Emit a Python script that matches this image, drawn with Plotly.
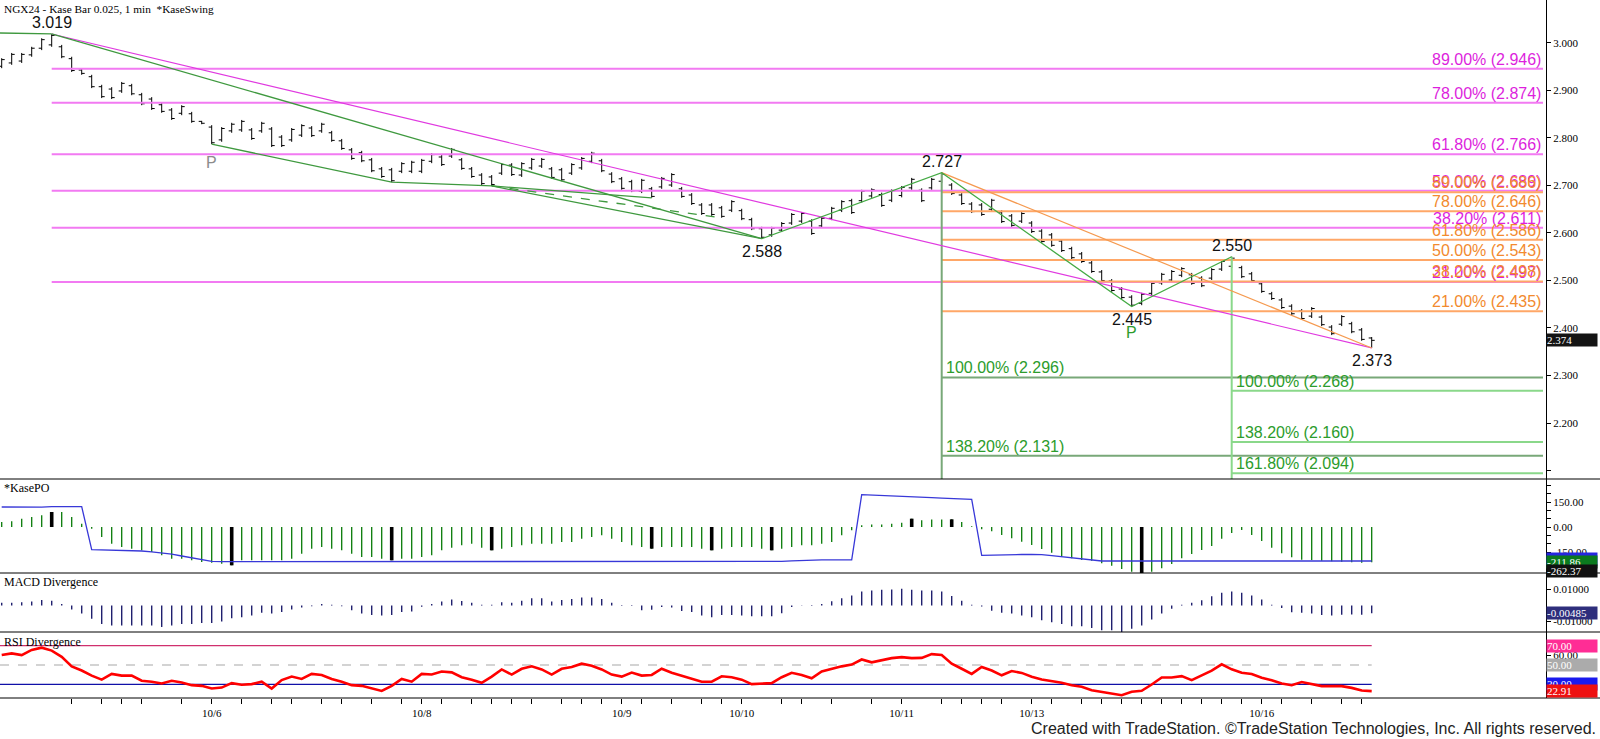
import plotly.graph_objects as go

# ---------------- data ----------------
bar_index = list(range(138))

opens = [
    2.951, 2.958, 2.962, 2.975, 2.989, 2.996, 2.992, 2.967, 2.943, 2.929,
    2.908, 2.903, 2.899, 2.910, 2.891, 2.882, 2.870, 2.859, 2.852, 2.851,
    2.835, 2.823, 2.796, 2.815, 2.817, 2.817, 2.815, 2.819, 2.802, 2.796,
    2.806, 2.821, 2.815, 2.811, 2.794, 2.775, 2.769, 2.754, 2.735, 2.733,
    2.730, 2.730, 2.730, 2.751, 2.760, 2.762, 2.754, 2.735, 2.722, 2.718,
    2.726, 2.743, 2.722, 2.737, 2.741, 2.735, 2.733, 2.726, 2.737, 2.751,
    2.752, 2.724, 2.714, 2.708, 2.688, 2.693, 2.697, 2.701, 2.693, 2.680,
    2.659, 2.659, 2.653, 2.648, 2.647, 2.628, 2.609, 2.596, 2.606, 2.621,
    2.625, 2.625, 2.615, 2.631, 2.648, 2.668, 2.668, 2.678, 2.681, 2.669,
    2.679, 2.695, 2.690, 2.695, 2.709, 2.701, 2.680, 2.661, 2.659, 2.650,
    2.644, 2.636, 2.625, 2.621, 2.604, 2.596, 2.583, 2.567, 2.556, 2.537,
    2.518, 2.499, 2.482, 2.465, 2.452, 2.473, 2.495, 2.501, 2.511, 2.512,
    2.505, 2.505, 2.524, 2.530, 2.527, 2.514, 2.493, 2.472, 2.459, 2.446,
    2.436, 2.425, 2.423, 2.402, 2.408, 2.409, 2.396, 2.379,
]
highs = [
    2.968, 2.979, 2.979, 2.992, 3.010, 3.019, 2.996, 2.971, 2.947, 2.933,
    2.912, 2.907, 2.918, 2.914, 2.895, 2.886, 2.874, 2.863, 2.869, 2.855,
    2.836, 2.827, 2.823, 2.832, 2.838, 2.821, 2.834, 2.823, 2.806, 2.821,
    2.829, 2.825, 2.832, 2.815, 2.798, 2.779, 2.773, 2.758, 2.739, 2.737,
    2.749, 2.752, 2.756, 2.768, 2.764, 2.779, 2.758, 2.739, 2.726, 2.722,
    2.747, 2.747, 2.749, 2.758, 2.758, 2.739, 2.737, 2.747, 2.760, 2.771,
    2.756, 2.728, 2.718, 2.712, 2.714, 2.697, 2.718, 2.726, 2.697, 2.684,
    2.663, 2.663, 2.657, 2.669, 2.651, 2.632, 2.613, 2.613, 2.623, 2.642,
    2.644, 2.629, 2.634, 2.655, 2.669, 2.672, 2.691, 2.694, 2.685, 2.692,
    2.699, 2.716, 2.694, 2.716, 2.727, 2.705, 2.684, 2.665, 2.663, 2.672,
    2.648, 2.640, 2.644, 2.625, 2.608, 2.600, 2.587, 2.571, 2.560, 2.541,
    2.522, 2.503, 2.486, 2.469, 2.474, 2.497, 2.516, 2.522, 2.528, 2.516,
    2.509, 2.526, 2.543, 2.550, 2.531, 2.518, 2.497, 2.476, 2.463, 2.450,
    2.440, 2.444, 2.427, 2.406, 2.427, 2.413, 2.400, 2.381,
]
lows = [
    2.947, 2.954, 2.958, 2.971, 2.985, 2.992, 2.968, 2.939, 2.933, 2.905,
    2.884, 2.882, 2.895, 2.890, 2.869, 2.859, 2.853, 2.838, 2.848, 2.832,
    2.829, 2.787, 2.792, 2.811, 2.813, 2.796, 2.811, 2.781, 2.781, 2.792,
    2.802, 2.802, 2.811, 2.792, 2.775, 2.754, 2.749, 2.728, 2.716, 2.707,
    2.726, 2.726, 2.726, 2.747, 2.741, 2.758, 2.733, 2.716, 2.701, 2.699,
    2.722, 2.720, 2.718, 2.733, 2.737, 2.714, 2.709, 2.722, 2.733, 2.747,
    2.728, 2.705, 2.691, 2.686, 2.684, 2.674, 2.693, 2.697, 2.674, 2.659,
    2.638, 2.636, 2.632, 2.644, 2.627, 2.606, 2.588, 2.592, 2.602, 2.617,
    2.621, 2.596, 2.611, 2.627, 2.644, 2.640, 2.664, 2.674, 2.655, 2.665,
    2.675, 2.691, 2.665, 2.691, 2.705, 2.680, 2.659, 2.642, 2.636, 2.646,
    2.621, 2.613, 2.621, 2.600, 2.579, 2.571, 2.560, 2.545, 2.537, 2.516,
    2.497, 2.476, 2.461, 2.445, 2.448, 2.469, 2.491, 2.497, 2.507, 2.491,
    2.486, 2.501, 2.520, 2.526, 2.505, 2.497, 2.474, 2.459, 2.440, 2.427,
    2.417, 2.421, 2.404, 2.385, 2.404, 2.389, 2.373, 2.358,
]
closes = [
    2.965, 2.976, 2.976, 2.989, 3.007, 3.016, 2.971, 2.942, 2.936, 2.908,
    2.887, 2.885, 2.915, 2.893, 2.872, 2.862, 2.856, 2.841, 2.866, 2.835,
    2.831, 2.790, 2.820, 2.829, 2.835, 2.799, 2.831, 2.784, 2.784, 2.818,
    2.826, 2.805, 2.829, 2.795, 2.778, 2.757, 2.752, 2.731, 2.719, 2.710,
    2.746, 2.749, 2.753, 2.765, 2.744, 2.776, 2.736, 2.719, 2.704, 2.702,
    2.744, 2.723, 2.746, 2.755, 2.755, 2.717, 2.712, 2.744, 2.757, 2.768,
    2.731, 2.708, 2.694, 2.689, 2.711, 2.677, 2.715, 2.723, 2.677, 2.662,
    2.641, 2.639, 2.635, 2.666, 2.630, 2.609, 2.591, 2.610, 2.620, 2.639,
    2.641, 2.599, 2.631, 2.652, 2.666, 2.643, 2.688, 2.691, 2.658, 2.689,
    2.696, 2.713, 2.668, 2.713, 2.724, 2.683, 2.662, 2.645, 2.639, 2.669,
    2.624, 2.616, 2.641, 2.603, 2.582, 2.574, 2.563, 2.548, 2.540, 2.519,
    2.500, 2.479, 2.464, 2.448, 2.471, 2.494, 2.513, 2.519, 2.525, 2.494,
    2.489, 2.523, 2.540, 2.547, 2.508, 2.500, 2.477, 2.462, 2.443, 2.430,
    2.420, 2.441, 2.407, 2.388, 2.424, 2.392, 2.376, 2.374,
]

kasepo_hist = [
    30, 34, 50, 60, 70, 90, 90, 60, 20, -10,
    -60, -100, -120, -130, -140, -150, -170, -190, -190, -200,
    -210, -215, -220, -230, -200, -200, -200, -200, -200, -190,
    -160, -130, -120, -130, -140, -160, -180, -180, -190, -200,
    -190, -190, -180, -170, -140, -125, -110, -100, -125, -140,
    -130, -120, -110, -100, -100, -100, -90, -90, -70, -60,
    -50, -70, -90, -110, -120, -130, -120, -120, -120, -120,
    -130, -140, -130, -120, -120, -120, -130, -140, -130, -120,
    -110, -110, -100, -90, -50, -20, 10, 15, 15, 20,
    25, 50, 40, 45, 45, 46, 30, 4, -14, -26,
    -48, -68, -88, -108, -132, -154, -174, -188, -198, -202,
    -218, -232, -252, -268, -278, -268, -248, -222, -188, -162,
    -138, -114, -70, -36, -18, -48, -84, -124, -158, -182,
    -196, -198, -202, -206, -208, -212, -214, -212,
]
kasepo_peak_bars = [5, 23, 39, 49, 65, 71, 77, 91, 95, 114]
kasepo_line = [
    120, 119, 118, 118, 119, 122, 122, 122, 122, -136,
    -137, -138, -139, -140, -144, -149, -154, -163, -174, -185,
    -196, -206, -208, -208, -208, -208, -208, -208, -208, -208,
    -208, -208, -208, -208, -208, -208, -208, -208, -208, -208,
    -208, -208, -208, -208, -208, -208, -208, -208, -208, -208,
    -208, -208, -208, -208, -208, -208, -208, -208, -208, -208,
    -208, -208, -208, -208, -208, -208, -208, -208, -208, -208,
    -208, -208, -208, -208, -208, -208, -208, -208, -206, -203,
    -200, -198, -197, -197, -197, -197, 194, 192, 190, 188,
    185, 182, 179, 176, 173, 170, 168, 166, -170, -168,
    -166, -165, -165, -165, -166, -172, -178, -185, -192, -198,
    -204, -204, -204, -204, -204, -204, -204, -204, -204, -204,
    -204, -204, -204, -204, -204, -204, -204, -204, -204, -204,
    -204, -204, -204, -204, -204, -204, -204, -204,
]
macd_div = [
    0.0017, 0.0017, 0.0020, 0.0025, 0.0035, 0.0030, 0.0010, -0.0025, -0.0050, -0.0083,
    -0.0115, -0.0125, -0.0125, -0.0125, -0.0125, -0.0125, -0.0135, -0.0125, -0.0115, -0.0115,
    -0.0110, -0.0110, -0.0100, -0.0080, -0.0073, -0.0063, -0.0046, -0.0050, -0.0040, -0.0025,
    -0.0012, -0.0004, 0.0010, 0.0004, -0.0004, -0.0030, -0.0050, -0.0060, -0.0063, -0.0060,
    -0.0040, -0.0038, -0.0008, 0.0010, 0.0025, 0.0038, 0.0028, 0.0017, 0.0004, 0.0004,
    0.0020, 0.0017, 0.0030, 0.0045, 0.0045, 0.0025, 0.0035, 0.0040, 0.0050, 0.0050,
    0.0040, 0.0017, 0.0003, -0.0003, -0.0030, -0.0027, -0.0010, -0.0012, -0.0035, -0.0040,
    -0.0063, -0.0073, -0.0060, -0.0060, -0.0063, -0.0067, -0.0067, -0.0067, -0.0048, -0.0010,
    0.0002, -0.0003, 0.0010, 0.0027, 0.0046, 0.0063, 0.0088, 0.0094, 0.0098, 0.0100,
    0.0104, 0.0098, 0.0094, 0.0094, 0.0088, 0.0060, 0.0030, 0.0004, -0.0006, -0.0033,
    -0.0046, -0.0050, -0.0063, -0.0073, -0.0092, -0.0104, -0.0115, -0.0130, -0.0130, -0.0140,
    -0.0154, -0.0154, -0.0165, -0.0146, -0.0125, -0.0088, -0.0050, -0.0020, 0.0005, 0.0017,
    0.0033, 0.0058, 0.0079, 0.0088, 0.0079, 0.0063, 0.0038, 0.0005, -0.0015, -0.0042,
    -0.0046, -0.0050, -0.0060, -0.0063, -0.0058, -0.0056, -0.0058, -0.00485,
]
rsi = [
    60.3, 62.0, 60.3, 65.6, 68.0, 64.9, 58.5, 48.6, 44.3, 39.0,
    34.8, 40.8, 39.0, 39.0, 33.7, 32.7, 30.9, 33.7, 31.9, 29.1,
    28.4, 25.6, 26.6, 31.2, 29.5, 30.2, 32.7, 25.6, 34.4, 38.0,
    35.5, 40.8, 39.7, 35.5, 32.7, 29.1, 28.4, 25.6, 23.1, 28.4,
    35.5, 32.7, 40.8, 40.1, 43.3, 42.4, 37.3, 34.8, 31.6, 38.0,
    45.4, 40.1, 46.1, 48.6, 45.4, 40.1, 46.1, 47.9, 51.4, 49.3,
    45.4, 40.1, 38.0, 42.2, 39.0, 39.7, 46.1, 41.9, 39.0, 36.2,
    32.7, 32.7, 38.3, 37.3, 34.8, 30.2, 30.9, 31.2, 37.3, 41.9,
    39.7, 36.2, 43.3, 46.1, 48.6, 50.4, 55.7, 52.8, 55.0, 57.1,
    58.1, 57.1, 57.4, 61.3, 60.3, 51.4, 46.1, 40.8, 47.9, 44.3,
    39.3, 43.7, 41.8, 37.8, 35.0, 33.3, 31.6, 29.1, 27.4, 23.9,
    22.2, 21.1, 18.7, 22.2, 23.2, 29.8, 37.1, 37.1, 38.5, 34.3,
    39.6, 44.1, 50.7, 45.5, 42.0, 40.6, 36.8, 34.3, 30.9, 29.1,
    32.3, 30.2, 28.1, 28.1, 28.1, 26.3, 23.5, 22.9,
]
rsi_levels = [70, 50, 30]

date_ticks = [21, 42, 62, 74, 90, 103, 126]
date_labels = ["10/6", "10/8", "10/9", "10/10", "10/11", "10/13", "10/16"]
minor_ticks = [7, 10, 12, 14, 18, 24, 27, 29, 32, 34, 37, 40, 44, 47, 49, 51, 53, 56,
               58, 60, 64, 67, 70, 72, 78, 80, 83, 87, 94, 96, 98, 100, 105, 108, 110,
               112, 114, 116, 118, 120, 122, 124, 128, 131, 134, 136]

# Fibonacci retracements (magenta from the 3.019 swing, orange from the 2.727 swing)
mag_start = 5
mag_pcts = ["89.00%", "78.00%", "61.80%", "50.00%", "38.20%", "21.00%"]
mag_levels = [2.946, 2.874, 2.766, 2.689, 2.611, 2.497]
org_start = 94
org_pcts = ["89.00%", "78.00%", "61.80%", "50.00%", "38.20%", "21.00%"]
org_levels = [2.686, 2.646, 2.586, 2.543, 2.498, 2.435]
# Fibonacci extensions (green)
extA_start = 94
extA_pcts = ["100.00%", "138.20%"]
extA_levels = [2.296, 2.131]
extB_start = 123
extB_pcts = ["100.00%", "138.20%", "161.80%"]
extB_levels = [2.268, 2.160, 2.094]

prior_swing_high = 3.021
swing_labels = [("3.019", 5, "high"), ("2.588", 76, "low"), ("2.727", 94, "high"),
                ("2.445", 113, "low"), ("2.550", 123, "high"), ("2.373", 137, "low")]
last_close_tag = "2.374"

# ---------------- layout constants ----------------
W, H = 1600, 739
XD = 1546 / W
XMIN, XMAX = -0.17, 154.43
x_edge = XMAX - 0.3
YMIN, YMAX = 2.0821, 3.0905


def dom(top, bot):
    return [1 - bot / H, 1 - top / H]


MAG, MAG_TXT = "#f27af2", "#dd1fdd"
ORG, ORG_TXT = "#ffa767", "#f28a2e"
GA, GB, G_TXT = "#78a878", "#8ad88a", "#2c9c2c"
SWING = "#3f993f"
SERIF = "Liberation Serif"
SANS = "Liberation Sans"
FIB_SIZE = 16

fig = go.Figure()


def line(x, y, color, width, dash=None, xa="x", ya="y"):
    fig.add_trace(go.Scatter(x=x, y=y, mode="lines", xaxis=xa, yaxis=ya,
                             line=dict(color=color, width=width, dash=dash),
                             hoverinfo="skip", showlegend=False))


# fib horizontals
for lv in mag_levels:
    line([mag_start, x_edge], [lv, lv], MAG, 2)
for lv in org_levels:
    line([org_start, x_edge], [lv, lv], ORG, 2)
for lv in extA_levels:
    line([extA_start, x_edge], [lv, lv], GA, 2)
for lv in extB_levels:
    line([extB_start, x_edge], [lv, lv], GB, 2)
line([extA_start, extA_start], [highs[extA_start], YMIN], GA, 2)
line([extB_start, extB_start], [highs[extB_start], YMIN], GB, 2)

# price bars
fig.add_trace(go.Ohlc(x=bar_index, open=opens, high=highs, low=lows, close=closes,
                      xaxis="x", yaxis="y", tickwidth=0.3,
                      increasing=dict(line=dict(color="black", width=1)),
                      decreasing=dict(line=dict(color="black", width=1)),
                      hoverinfo="skip", showlegend=False))

# trend / swing lines
line([5, 137], [highs[5], lows[137]], "#e03ae0", 1.2)
line([94, 137], [highs[94], lows[137]], "#f59a50", 1.2)
line([XMIN, 5], [prior_swing_high, highs[5]], SWING, 1.3)
line([5, 76], [highs[5], lows[76]], SWING, 1.3)
line([21, 39, 49], [lows[21], lows[39], lows[49]], SWING, 1.3)
line([49, 65], [lows[49], lows[65]], SWING, 1.3)
line([49, 72], [lows[49], lows[72]], SWING, 1.3, dash="dash")
line([49, 76], [lows[49], lows[76]], SWING, 1.3)
line([76, 94, 113, 123], [lows[76], highs[94], lows[113], highs[123]], "#44aa44", 1.3)

# KasePO
fig.add_trace(go.Bar(x=bar_index, y=kasepo_hist, width=0.13, xaxis="x2", yaxis="y2",
                     marker=dict(color="#087a08", line=dict(width=0)),
                     hoverinfo="skip", showlegend=False))
fig.add_trace(go.Bar(x=kasepo_peak_bars, y=[kasepo_hist[i] for i in kasepo_peak_bars],
                     width=0.36, xaxis="x2", yaxis="y2",
                     marker=dict(color="black", line=dict(width=0)),
                     hoverinfo="skip", showlegend=False))
line(bar_index, kasepo_line, "#3838d8", 1.3, xa="x2", ya="y2")

# MACD divergence
fig.add_trace(go.Bar(x=bar_index, y=macd_div, width=0.14, xaxis="x3", yaxis="y3",
                     marker=dict(color="#20206e", line=dict(width=0)),
                     hoverinfo="skip", showlegend=False))

# RSI divergence
line([XMIN, bar_index[-1]], [rsi_levels[0]] * 2, "#d0306e", 1.2, xa="x4", ya="y4")
line([XMIN, bar_index[-1]], [rsi_levels[1]] * 2, "#a8a8a8", 1.2, dash="dash", xa="x4", ya="y4")
line([XMIN, bar_index[-1]], [rsi_levels[2]] * 2, "#1010a8", 1.2, xa="x4", ya="y4")
line(bar_index, rsi, "#ff0000", 2.6, xa="x4", ya="y4")

# ---------------- annotations ----------------
ann = []
for p, lv in zip(mag_pcts, mag_levels):
    ann.append(dict(x=x_edge, y=lv, xref="x", yref="y", text=f"{p} ({lv:.3f})",
                    xanchor="right", yanchor="bottom", showarrow=False, yshift=-1,
                    font=dict(family=SANS, size=FIB_SIZE, color=MAG_TXT)))
for p, lv in zip(org_pcts, org_levels):
    ann.append(dict(x=x_edge, y=lv, xref="x", yref="y", text=f"{p} ({lv:.3f})",
                    xanchor="right", yanchor="bottom", showarrow=False, yshift=-1,
                    font=dict(family=SANS, size=FIB_SIZE, color=ORG_TXT)))
for start, pcts, lvls in ((extA_start, extA_pcts, extA_levels), (extB_start, extB_pcts, extB_levels)):
    for p, lv in zip(pcts, lvls):
        ann.append(dict(x=start, y=lv, xref="x", yref="y", text=f"{p} ({lv:.3f})",
                        xanchor="left", yanchor="bottom", showarrow=False, xshift=2, yshift=-1,
                        font=dict(family=SANS, size=FIB_SIZE, color=G_TXT)))
for txt, i, kind in swing_labels:
    if kind == "high":
        ann.append(dict(x=i, y=highs[i], xref="x", yref="y", text=txt, showarrow=False,
                        yanchor="bottom", yshift=1, font=dict(family=SANS, size=16, color="#111")))
    else:
        ann.append(dict(x=i, y=lows[i], xref="x", yref="y", text=txt, showarrow=False,
                        yanchor="top", yshift=-2, font=dict(family=SANS, size=16, color="#111")))
ann.append(dict(x=21, y=lows[21], xref="x", yref="y", text="P", showarrow=False,
                yanchor="top", yshift=-8, font=dict(family=SANS, size=16, color="#8c8c8c")))
ann.append(dict(x=113, y=lows[113], xref="x", yref="y", text="P", showarrow=False,
                yanchor="top", yshift=-15, font=dict(family=SANS, size=16, color="#2c9c2c")))

# titles
ann.append(dict(x=2 / W, y=1 - 9 / H, xref="paper", yref="paper", showarrow=False,
                text="NGX24 - Kase Bar 0.025, 1 min \u00a0*KaseSwing", xanchor="left", yanchor="middle",
                font=dict(family=SERIF, size=11.3, color="black")))
for txt, ypx in (("*KasePO", 488), ("MACD Divergence", 582), ("RSI Divergence", 642)):
    ann.append(dict(x=2 / W, y=1 - ypx / H, xref="paper", yref="paper", showarrow=False,
                    text=txt, xanchor="left", yanchor="middle",
                    font=dict(family=SERIF, size=12, color="black")))
ann.append(dict(x=1 - 2 / W, y=1 - 728 / H, xref="paper", yref="paper", showarrow=False,
                text="Created with TradeStation. \u00a9TradeStation Technologies, Inc. All rights reserved.",
                xanchor="right", yanchor="middle", font=dict(family=SANS, size=16, color="#222")))


def tag(y, yref, text, bg):
    ann.append(dict(x=XD, y=y, xref="paper", yref=yref, text=text, showarrow=False,
                    xanchor="left", yanchor="middle", align="left", width=50, bgcolor=bg,
                    borderpad=0, font=dict(family=SERIF, size=11, color="white")))


tag(float(last_close_tag), "y", last_close_tag, "#141414")
tag(-192, "y2", "-204.00", "#2626e0")
tag(kasepo_hist[-1] + 0.14, "y2", "-211.86", "#0b7a1e")
tag(-262.37, "y2", "-262.37", "#111111")
tag(macd_div[-1], "y3", "-0.00485", "#2e2e7c")
tag(70, "y4", "70.00", "#ff2d95")
tag(50, "y4", "50.00", "#ababab")
tag(30, "y4", "30.00", "#1a1aee")
tag(rsi[-1], "y4", "22.91", "#ee1111")

# ---------------- axes ----------------
xcommon = dict(range=[XMIN, XMAX], domain=[0, XD], showgrid=False, zeroline=False,
               showline=False, fixedrange=True)
ycommon = dict(side="right", showgrid=False, zeroline=False, showline=True, linecolor="black",
               linewidth=1, ticks="outside", ticklen=4, tickcolor="black", fixedrange=True,
               tickfont=dict(family=SERIF, size=11, color="black"))

all_ticks = sorted(date_ticks + minor_ticks)
all_text = [date_labels[date_ticks.index(t)] if t in date_ticks else "" for t in all_ticks]

fig.update_layout(
    width=W, height=H, margin=dict(l=0, r=0, t=0, b=0),
    paper_bgcolor="white", plot_bgcolor="white", showlegend=False, barmode="overlay",
    xaxis=dict(**xcommon, anchor="y", showticklabels=False, ticks="", rangeslider=dict(visible=False)),
    xaxis2=dict(**xcommon, anchor="y2", showticklabels=False, ticks=""),
    xaxis3=dict(**xcommon, anchor="y3", showticklabels=False, ticks=""),
    xaxis4=dict(**xcommon, anchor="y4", tickmode="array", tickvals=all_ticks, ticktext=all_text,
                ticks="outside", ticklen=5, tickcolor="black",
                tickfont=dict(family=SERIF, size=11, color="black")),
    yaxis=dict(**ycommon, domain=dom(0, 479), anchor="x", range=[YMIN, YMAX],
               tickmode="array", tickvals=[3.0, 2.9, 2.8, 2.7, 2.6, 2.5, 2.4, 2.3, 2.2, 2.1],
               ticktext=["3.000", "2.900", "2.800", "2.700", "2.600", "2.500", "2.400", "2.300", "2.200", ""]),
    yaxis2=dict(**ycommon, domain=dom(479, 573), anchor="x2", range=[-276, 288],
                tickmode="array", tickvals=[250, 200, 150, 100, 50, 0, -50, -100, -150, -200, -250],
                ticktext=["", "", "150.00", "", "", "0.00", "", "", "-150.00", "", ""]),
    yaxis3=dict(**ycommon, domain=dom(573, 632), anchor="x3", range=[-0.01656, 0.0203],
                tickmode="array", tickvals=[0.01, -0.01], ticktext=["0.01000", "-0.01000"]),
    yaxis4=dict(**ycommon, domain=dom(632, 698), anchor="x4", range=[15.8, 84.2],
                tickmode="array", tickvals=[60], ticktext=["60.00"]),
    annotations=ann,
    shapes=[dict(type="line", xref="paper", yref="paper", x0=0, x1=1, y0=1 - yp / H, y1=1 - yp / H,
                 line=dict(color="black", width=1)) for yp in (479, 573, 632, 698)],
)

fig.write_html("out.html", config={"displayModeBar": False, "staticPlot": True},
               post_script="document.body.style.margin='0';document.body.style.overflow='hidden';")
